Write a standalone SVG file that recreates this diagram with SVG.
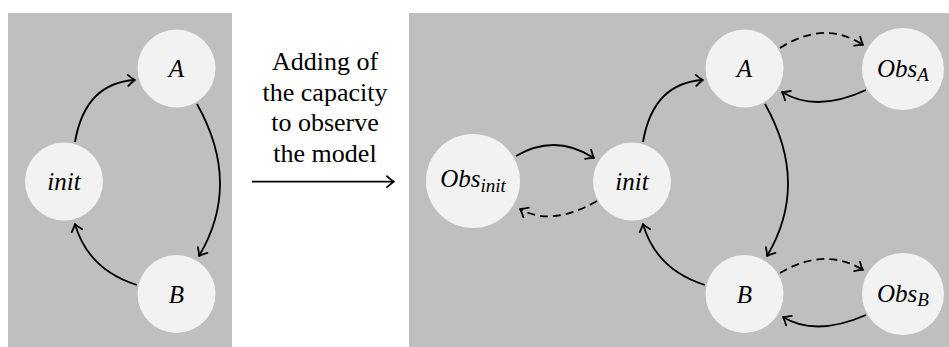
<svg xmlns="http://www.w3.org/2000/svg" width="949" height="347" viewBox="0 0 949 347">
<style>
.panel{fill:#bfbfbf}
.node{fill:#f2f2f2}
.lbl{font-style:italic;font-size:25px;fill:#000;text-anchor:middle}
.sub{font-size:19px}
.cap{font-size:26px;fill:#000;text-anchor:middle}
.e{fill:none;stroke:#000;stroke-width:1.8;marker-end:url(#tip)}
.d{stroke-dasharray:8 5}
</style>
<defs>
<marker id="tip" markerUnits="userSpaceOnUse" markerWidth="16" markerHeight="16" viewBox="-9 -8 11 16" refX="0" refY="0" orient="auto" overflow="visible">
<path d="M-7,-5.5 Q-2.5,-1.3 0,0 Q-2.5,1.3 -7,5.5" fill="none" stroke="#000" stroke-width="1.8" stroke-linecap="round" stroke-linejoin="round" stroke-dasharray="none"/>
</marker>
</defs>
<rect class="panel" x="8" y="13" width="224" height="334"/>
<rect class="panel" x="409" y="13" width="540" height="334"/>

<g font-family="'Liberation Serif', Tinos, 'Times New Roman', Times, 'Nimbus Roman', 'Noto Serif', 'DejaVu Serif', serif">
<g id="L_A"><circle class="node" cx="176.5" cy="68.5" r="39"/><text class="lbl" x="176.5" y="77">A</text></g>
<g id="L_init"><circle class="node" cx="64" cy="181.5" r="39"/><text class="lbl" x="64" y="190">init</text></g>
<g id="L_B"><circle class="node" cx="176.5" cy="294" r="39"/><text class="lbl" x="176.5" y="302.5">B</text></g>

<g id="caption">
<text class="cap" x="325" y="70">Adding of</text>
<text class="cap" x="325" y="100.5">the capacity</text>
<text class="cap" x="325" y="131">to observe</text>
<text class="cap" x="325" y="161.5">the model</text>
</g>

<g id="R_A"><circle class="node" cx="744.5" cy="68.5" r="39"/><text class="lbl" x="744.5" y="77">A</text></g>
<g id="R_init"><circle class="node" cx="632" cy="181.5" r="39"/><text class="lbl" x="632" y="190">init</text></g>
<g id="R_B"><circle class="node" cx="744.5" cy="294" r="39"/><text class="lbl" x="744.5" y="302.5">B</text></g>
<g id="Obs_init"><circle class="node" cx="473" cy="181" r="47"/><text class="lbl" x="473" y="187">Obs<tspan class="sub" dy="5">init</tspan></text></g>
<g id="Obs_A"><circle class="node" cx="903" cy="69" r="41"/><text class="lbl" x="903" y="77">Obs<tspan class="sub" dy="4">A</tspan></text></g>
<g id="Obs_B"><circle class="node" cx="903" cy="294" r="41"/><text class="lbl" x="903" y="302">Obs<tspan class="sub" dy="4">B</tspan></text></g>
</g>

<g id="connectors">
<path class="e" d="M75,142 Q85,83 135,80"/>
<path class="e" d="M197,104 Q242,184 199,256"/>
<path class="e" d="M137,285 Q88,269.5 75,224"/>
<path class="e" d="M252,181.7 L394,181.7"/>
<path class="e" d="M643,142 Q653,83 703,80"/>
<path class="e" d="M765,104 Q810,184 767,256"/>
<path class="e" d="M705,285 Q656,269.5 643,224"/>
<path class="e" d="M516,156 Q555,133 594,158"/>
<path class="e d" d="M597,201 Q551.5,227 520,209"/>
<path class="e d" d="M780,48 Q824.5,19.5 863,45"/>
<path class="e" d="M866,90 Q816,113 782,92"/>
<path class="e d" d="M780,273 Q824.5,246.5 863,270"/>
<path class="e" d="M866,315 Q815.5,337 783,317"/>
</g>
</svg>
